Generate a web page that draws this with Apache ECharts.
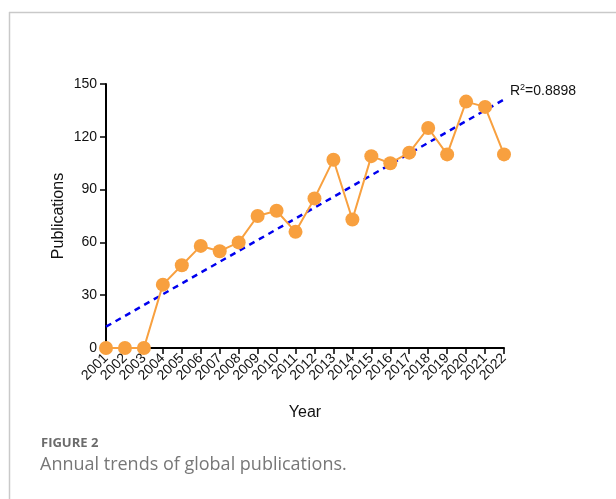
<!DOCTYPE html>
<html>
<head>
<meta charset="utf-8">
<script src="https://cdn.jsdelivr.net/npm/echarts@6/dist/echarts.min.js"></script>
<style>
  html, body { margin: 0; padding: 0; background: #fff; }
  #main { width: 616px; height: 499px; }
</style>
</head>
<body>
<div id="main"></div>
<script>
// data
var years = ['2001','2002','2003','2004','2005','2006','2007','2008','2009','2010','2011',
             '2012','2013','2014','2015','2016','2017','2018','2019','2020','2021','2022'];
var publications = [0, 0, 0, 36, 47, 58, 55, 60, 75, 78, 66, 85, 107, 73, 109, 105, 111, 125, 110, 140, 137, 110];
// linear trend line, start and end values
var trendEnds = [12.1, 141.2];
var yTicks = [0, 30, 60, 90, 120, 150];

var chart = echarts.init(document.getElementById('main'));

var trendData = years.map(function (y, i) {
  if (i === 0) return trendEnds[0];
  if (i === years.length - 1) return trendEnds[1];
  return '-';
});

var option = {
  animation: false,
  textStyle: { fontFamily: 'Liberation Sans, Arial, sans-serif' },
  grid: { left: 106, right: 112, top: 84, bottom: 151, containLabel: false },
  xAxis: {
    type: 'category',
    data: years,
    boundaryGap: false,
    name: 'Year',
    nameLocation: 'middle',
    nameGap: 57,
    nameTextStyle: { color: '#111', fontSize: 16 },
    axisLine: { lineStyle: { color: '#000', width: 2 } },
    axisTick: { alignWithLabel: true, length: 6, lineStyle: { color: '#000', width: 1.5 } },
    axisLabel: { rotate: 45, color: '#111', fontSize: 14, margin: 8, interval: 0 },
    splitLine: { show: false }
  },
  yAxis: {
    type: 'value',
    min: yTicks[0],
    max: yTicks[yTicks.length - 1],
    interval: 30,
    axisLine: { show: true, lineStyle: { color: '#000', width: 2 } },
    axisTick: { show: true, length: 6, lineStyle: { color: '#000', width: 1.5 } },
    axisLabel: { color: '#111', fontSize: 14, margin: 9 },
    splitLine: { show: false }
  },
  series: [
    {
      name: 'trend',
      type: 'line',
      data: trendData,
      connectNulls: true,
      symbol: 'none',
      z: 1,
      lineStyle: { color: '#0000ee', width: 2.5, type: [6, 5] },
      endLabel: {
        show: true,
        formatter: 'R{sup|2}=0.8898',
        color: '#111',
        fontSize: 14,
        distance: 6,
        offset: [0, -8],
        rich: {
          sup: { fontSize: 9, verticalAlign: 'bottom', padding: [0, 0, 8, 0], color: '#111' }
        }
      }
    },
    {
      name: 'Publications',
      type: 'line',
      data: publications,
      symbol: 'circle',
      symbolSize: 14,
      z: 2,
      itemStyle: { color: '#F8A03F' },
      lineStyle: { color: '#F8A03F', width: 2 }
    }
  ],
  graphic: [
    { type: 'line', shape: { x1: 9.5, y1: 12, x2: 9.5, y2: 499 }, style: { stroke: '#c9c9c9', lineWidth: 1.5 } },
    { type: 'line', shape: { x1: 9, y1: 12.5, x2: 616, y2: 12.5 }, style: { stroke: '#c9c9c9', lineWidth: 1.5 } },
    // y axis title
    { type: 'text', x: 59, y: 216, rotation: Math.PI / 2,
      style: { text: 'Publications', fill: '#111', font: '16px "Liberation Sans", Arial, sans-serif',
               align: 'center', verticalAlign: 'middle' } },
    { type: 'text', left: 41, top: 437, style: { text: 'FIGURE 2', fill: '#6b6b6b', font: 'bold 13px "Open Sans", sans-serif' } },
    { type: 'text', left: 40, top: 456, style: { text: 'Annual trends of global publications.', fill: '#777', font: '18px "Open Sans", sans-serif' } }
  ]
};

chart.setOption(option);
</script>
</body>
</html>
